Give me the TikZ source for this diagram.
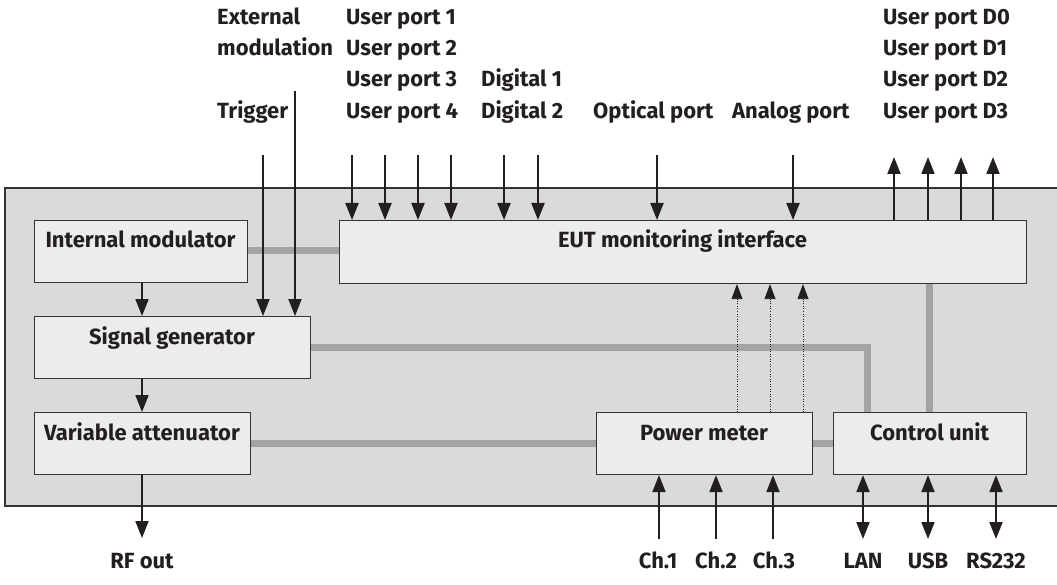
\documentclass[tikz,border=0pt]{standalone}
\usepackage{fontspec}
\setmainfont{Fira Sans}
\usetikzlibrary{arrows.meta}
\definecolor{outerfill}{HTML}{D9DADC}
\definecolor{boxfill}{HTML}{ECECEC}
\definecolor{busgray}{HTML}{A3A3A3}
\definecolor{ink}{HTML}{231F20}
\definecolor{edge}{HTML}{333333}
\tikzset{
  blk/.style={draw=edge, fill=boxfill, line width=1.1pt, rectangle, inner sep=0pt},
  lbl/.style={font=\fontsize{22}{26}\selectfont\bfseries, text=ink, inner sep=0pt},
  bus/.style={busgray, line width=7pt},
  sig/.style={ink, line width=2pt, -{Triangle[length=17pt,width=13pt]}},
  sigb/.style={ink, line width=2pt, {Triangle[length=17pt,width=13pt]}-{Triangle[length=17pt,width=13pt]}},
  dot/.style={ink, line width=0.8pt, dash pattern=on 1pt off 1.5pt, -{Triangle[length=15pt,width=11pt]}},
}
\newcommand{\mkbox}[5]{% name, x1, y1, x2, y2
  \node[blk, minimum width=#4pt-#2pt, minimum height=#5pt-#3pt, anchor=north west] (#1) at (#2,#3) {};}
\begin{document}
\begin{tikzpicture}[x=1pt,y=-1pt]
\useasboundingbox (0,0) rectangle (1057,585);
\fill[white] (0,0) rectangle (1057,585);
% outer housing
\path[draw=edge, fill=outerfill, line width=1.1pt] (5,188) rectangle (1062,506);

% gray buses (drawn before blocks)
\coordinate (sgc) at (867,347);
\draw[bus] (247,251) -- (339,251);
\draw[bus] (310,347) -- (sgc) -- (867,412);
\draw[bus] (250,443) -- (596,443);
\draw[bus] (812,443) -- (833,443);
\draw[bus] (929,412) -- (929,283);

% blocks
\mkbox{im}{34}{220}{247}{282}
\mkbox{sg}{34}{316}{310}{378}
\mkbox{va}{34}{412}{250}{474}
\mkbox{eut}{339}{220}{1026}{283}
\mkbox{pm}{596}{412}{812}{474}
\mkbox{cu}{833}{412}{1026}{474}

\node[lbl, anchor=base] (imt) at (140.5,248) {Internal modulator};
\node[lbl, anchor=base] (sgt) at (172,344) {Signal generator};
\node[lbl, anchor=base] (vat) at (142,440) {Variable attenuator};
\node[lbl, anchor=base] (eutt) at (682.5,248) {EUT monitoring interface};
\node[lbl, anchor=base] (pmt) at (704,440) {Power meter};
\node[lbl, anchor=base] (cut) at (929.5,440) {Control unit};

% top labels
\node[lbl, anchor=base west] (ext1) at (217,25) {External};
\node[lbl, anchor=base west] (ext2) at (217,56) {modulation};
\node[lbl, anchor=base west] (trig) at (217,119) {Trigger};
\node[lbl, anchor=base west] (up1) at (346,25) {User port 1};
\node[lbl, anchor=base west] (up2) at (346,56) {User port 2};
\node[lbl, anchor=base west] (up3) at (346,87) {User port 3};
\node[lbl, anchor=base west] (up4) at (346,119) {User port 4};
\node[lbl, anchor=base west] (dg1) at (481,87) {Digital 1};
\node[lbl, anchor=base west] (dg2) at (481,119) {Digital 2};
\node[lbl, anchor=base west] (opt) at (593,119) {Optical port};
\node[lbl, anchor=base west] (ana) at (732,119) {Analog port};
\node[lbl, anchor=base west] (ud0) at (883,25) {User port D0};
\node[lbl, anchor=base west] (ud1) at (883,56) {User port D1};
\node[lbl, anchor=base west] (ud2) at (883,87) {User port D2};
\node[lbl, anchor=base west] (ud3) at (883,119) {User port D3};

% bottom labels
\node[lbl, anchor=base] (rf) at (142,568) {RF out};
\node[lbl, anchor=base] (ch1) at (658,568) {Ch.1};
\node[lbl, anchor=base] (ch2) at (716,568) {Ch.2};
\node[lbl, anchor=base] (ch3) at (774,568) {Ch.3};
\node[lbl, anchor=base] (lan) at (863,568) {LAN};
\node[lbl, anchor=base] (usb) at (928,568) {USB};
\node[lbl, anchor=base] (rs) at (996,568) {RS232};

% inputs to signal generator
\coordinate (trigS) at (263,155);
\coordinate (extS) at (295,91);
\draw[sig] (trigS) -- (trigS |- sg.north);
\draw[sig] (extS) -- (extS |- sg.north);

% inputs to EUT
\foreach \x/\n in {352/a,385/b,418/c,451/d,504/e,538/f,657/g,793/h}{
  \coordinate (in\n) at (\x,155);
  \draw[sig] (in\n) -- (in\n |- eut.north);
}
% outputs from EUT
\foreach \x/\n in {894/a,928/b,961/c,993/d}{
  \coordinate (out\n) at (\x,157);
  \draw[sig] (out\n |- eut.north) -- (out\n);
}
% chain
\coordinate (chx) at (142,0);
\draw[sig] (chx |- im.south) -- (chx |- sg.north);
\draw[sig] (chx |- sg.south) -- (chx |- va.north);
\coordinate (rfE) at (142,538);
\draw[sig] (rfE |- va.south) -- (rfE);

% dotted power meter -> EUT
\foreach \x/\n in {737/a,770/b,803/c}{
  \coordinate (pd\n) at (\x,0);
  \draw[dot] (pd\n |- pm.north) -- (pd\n |- eut.south);
}
% channel inputs
\foreach \x/\n in {659/a,716/b,773/c}{
  \coordinate (ch\n) at (\x,539);
  \draw[sig] (ch\n) -- (ch\n |- pm.south);
}
% control unit interfaces
\foreach \x/\n in {863/a,928/b,996/c}{
  \coordinate (io\n) at (\x,539);
  \draw[sigb] (io\n) -- (io\n |- cu.south);
}
\end{tikzpicture}
\end{document}
